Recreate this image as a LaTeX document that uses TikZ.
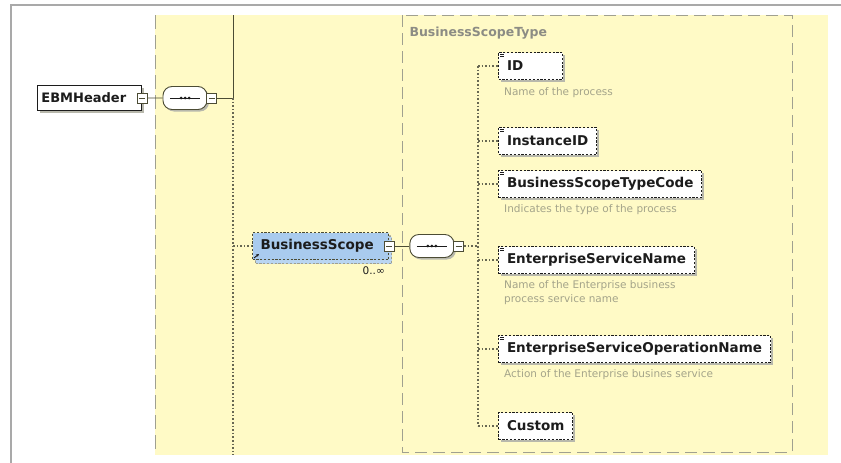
\documentclass[tikz,border=0pt]{standalone}
\usepackage{fontspec}
\setmainfont{DejaVu Sans}
\usetikzlibrary{arrows.meta,positioning,calc,shadows}
\definecolor{xsPale}  {HTML}{FFFAC6}
\definecolor{xsFrame} {HTML}{A9A9A9}
\definecolor{xsDash}  {HTML}{A0A090}
\definecolor{xsInk}   {HTML}{1C1C1C}
\definecolor{xsWire}  {HTML}{4C4C34}
\definecolor{xsNote}  {HTML}{A4A48A}
\definecolor{xsLabel} {HTML}{8C8C84}
\definecolor{xsBlue}  {HTML}{A9CBEE}
\definecolor{xsShade} {HTML}{B8B8AC}

\begin{document}
\begin{tikzpicture}[x=1pt,y=-1pt,
    wire/.style={xsWire,line width=0.9pt},
    dotwire/.style={xsWire!85,line width=1.1pt,dash pattern=on 1.6pt off 2pt},
    elem/.style={draw=xsInk,dash pattern=on 2.2pt off 1.6pt,line width=1pt,fill=white,
      minimum height=27,inner xsep=8.5pt,anchor=west,
      font=\fontsize{13.5}{15}\selectfont\bfseries,text=xsInk,
      drop shadow={shadow xshift=2.5pt,shadow yshift=-2.5pt,fill=xsShade,opacity=1}},
    marked/.style={elem,path picture={
      \draw[xsInk,line width=0.7pt,solid]
        ([xshift=1.5pt,yshift=-2pt]path picture bounding box.north west) -- ++(4pt,0pt)
        ([xshift=1.5pt,yshift=-4pt]path picture bounding box.north west) -- ++(4pt,0pt);}},
    note/.style={font=\fontsize{10.5}{14}\selectfont,text=xsNote,align=left,inner sep=0pt},
    minbox/.style={draw=xsWire,fill=white,line width=0.8pt,minimum size=10pt,inner sep=0pt,
      path picture={\draw[xsWire,line width=0.8pt]
        ([xshift=2pt]path picture bounding box.west) -- ([xshift=-2pt]path picture bounding box.east);}},
    seqbox/.style={draw=xsWire,fill=white,line width=0.9pt,rounded corners=9pt,
      minimum width=44pt,minimum height=23pt,inner sep=0pt,
      drop shadow={shadow xshift=2pt,shadow yshift=-2pt,fill=xsShade,opacity=1},
      path picture={
        \draw[xsInk,line width=0.9pt]
          ([xshift=7pt]path picture bounding box.west) -- ([xshift=-7pt]path picture bounding box.east);
        \foreach \d in {-4,0,4}
          \fill[xsInk] ([xshift=\d pt]path picture bounding box.center) circle (1.5pt);}}
  ]
  \useasboundingbox (0,0) rectangle (841,463);
  \fill[white] (0,0) rectangle (841,463);
  % panels
  \fill[xsPale] (155,15) rectangle (828,455);
  \draw[xsFrame,line width=1.5pt] (11,463) |- (841,5);
  \draw[xsDash,line width=0.9pt,dash pattern=on 14pt off 6pt] (155,15) -- (155,455);
  \draw[xsDash,line width=0.9pt,dash pattern=on 12pt off 6pt] (402,15) rectangle (792,452);
  \node[anchor=west,font=\fontsize{12.5}{14}\selectfont\bfseries,text=xsLabel] (typename) at (406,33) {BusinessScopeType};

  % root element and its sequence
  \node[draw=xsInk,line width=0.9pt,fill=white,anchor=north west,minimum height=25,
        text width=96pt,inner xsep=4pt,font=\fontsize{13}{15}\selectfont\bfseries,text=xsInk,
        drop shadow={shadow xshift=3pt,shadow yshift=-3pt,fill=xsShade,opacity=1}] (ebm) at (37,85) {EBMHeader};
  \node[minbox] (ebmmin) at (ebm.east) {};
  \node[seqbox] (seqa) at (185,98) {};
  \node[minbox,right=-1pt of seqa] (seqamin) {};
  \coordinate (trunk) at (233,98);
  \coordinate (trunktop) at (233,15);
  \coordinate (trunkend) at (233,455);
  \draw[wire] (ebmmin) -- (seqa);
  \draw[wire] (seqamin) -- (trunk) -- (trunktop);
  \draw[dotwire] (trunk) -- (trunkend);

  % BusinessScope
  \node[elem,fill=xsBlue,text width=120pt,inner xsep=8pt,draw=xsWire,
        copy shadow={shadow xshift=3pt,shadow yshift=-4pt,fill=xsBlue!80,draw=xsDash}] (scope) at (252,246) {BusinessScope};
  \draw[xsInk,line width=0.9pt,-{Stealth[length=3pt,width=3pt]}] ([xshift=2pt,yshift=2pt]scope.south west) -- ++(5pt,4pt);
  \node[minbox] (scopemin) at (scope.east) {};
  \node[font=\fontsize{10.5}{12}\selectfont,text=xsInk,below left=7pt and 4pt of scope.south east,inner sep=0pt] (card) {0..∞};
  \coordinate (scopejoin) at (233,246);
  \draw[dotwire] (scopejoin) -- (scope);
  \node[seqbox,right=15pt of scopemin] (seqb) {};
  \node[minbox,right=-1pt of seqb] (seqbmin) {};
  \coordinate (branch) at (478,246);
  \draw[wire] (scopemin) -- (seqb);
  \draw[dotwire] (seqbmin) -- (branch);

  % children of BusinessScopeType
  \node[marked,text width=47pt] (id) at (498,66) {ID};
  \node[marked] (instance) at (498,141) {InstanceID};
  \node[marked] (typecode) at (498,184) {BusinessScopeTypeCode};
  \node[marked] (svcname) at (498,260) {EnterpriseServiceName};
  \node[marked] (svcop) at (498,349) {EnterpriseServiceOperationName};
  \node[elem] (custom) at (498,426) {Custom};

  \node[note,below right=7pt and 6pt of id.south west] (idnote) {Name of the process};
  \node[note,below right=6pt and 6pt of typecode.south west] (typenote) {Indicates the type of the process};
  \node[note,below right=6pt and 6pt of svcname.south west] (svcnote) {Name of the Enterprise business\\process service name};
  \node[note,below right=6pt and 6pt of svcop.south west] (opnote) {Action of the Enterprise busines service};

  \draw[dotwire] (branch |- id.west) -- (branch |- custom.west);
  \foreach \n in {id,instance,typecode,svcname,svcop,custom}
    \draw[dotwire] (branch |- \n.west) -- (\n.west);
\end{tikzpicture}
\end{document}
